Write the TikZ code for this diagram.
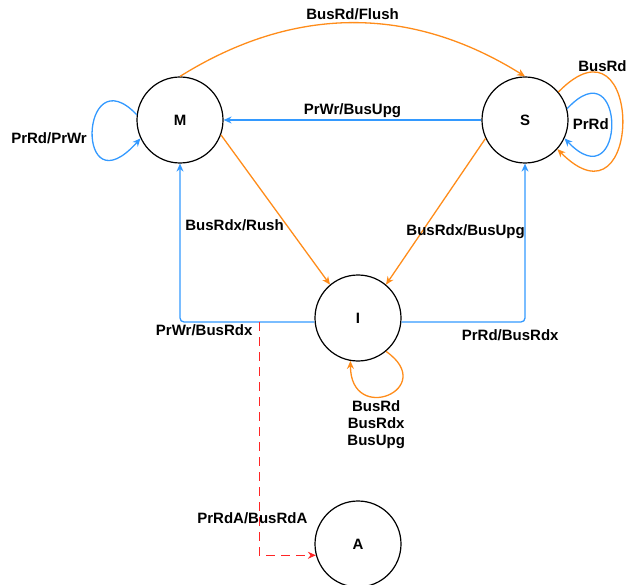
\documentclass[tikz,border=0pt]{standalone}
\usepackage{fontspec}
\setmainfont{Liberation Sans}
\usetikzlibrary{arrows.meta}
\definecolor{busorange}{RGB}{255,140,26}
\definecolor{busblue}{RGB}{51,153,255}
\colorlet{busred}{red!85!white}
\tikzstyle{state} = [circle, draw=black, line width=1.2pt, minimum size=86pt, inner sep=0pt, font=\fontsize{15}{17}\selectfont\bfseries]
\tikzstyle{trans} = [line width=1.3pt, -{Stealth[length=8pt,width=7pt]}]
\tikzstyle{orangeline} = [trans, draw=busorange]
\tikzstyle{blueline} = [trans, draw=busblue, rounded corners=4pt]
\tikzstyle{redline} = [trans, line width=1.5pt, draw=busred, dash pattern=on 9pt off 6pt]
\tikzstyle{lbl} = [font=\fontsize{15}{17}\selectfont\bfseries, text=black, inner sep=2pt, align=center]

\begin{document}
\begin{tikzpicture}[node distance=198pt]
\useasboundingbox (0,0) rectangle (629pt,-585pt);

\node (m) [state] at (180pt,-120pt) {M};
\node (s) [state, right of=m, xshift=147pt] {S};
\node (i) [state, below of=m, xshift=178pt] {I};
\node (a) [state, below of=i, yshift=-28pt] {A};

\coordinate (split) at ([xshift=-55pt, yshift=-4pt]i.west);

% M and S
\draw [orangeline] (m.north) to[bend left=32] node[lbl, above] {BusRd/Flush} (s.north);
\draw [blueline] (s.west) -- node[lbl, above] {PrWr/BusUpg} (m.east);
\draw [blueline] (m.173) .. controls +(-57pt,60pt) and +(-66pt,-74pt) .. node[lbl, left, xshift=-3pt, yshift=-6pt] {PrRd/PrWr} (m.205);
\draw [blueline] (s.15) .. controls +(59.5pt,63.9pt) and +(62pt,-64.8pt) .. node[lbl, left] {PrRd} (s.-25);
\draw [orangeline] (s.40) .. controls +(85.6pt,87.4pt) and +(86.5pt,-87.2pt) .. node[lbl, above, pos=0.22] {BusRd} (s.-42);

% into I
\draw [orangeline] (m.-20) -- node[lbl, left, pos=0.6] {BusRdx/Rush} (i.130);
\draw [orangeline] (s.205) -- node[lbl, anchor=west, pos=0.64, xshift=-18pt] {BusRdx/BusUpg} (i.50);
\draw [orangeline] (i.-50) .. controls +(-35:65pt) and +(-90:65pt) .. node[lbl, below, xshift=-12pt, yshift=-3pt] {BusRd\\BusRdx\\BusUpg} (i.-100);

% out of I
\draw [blueline] ([yshift=-4pt]i.west) -| node[lbl, below, pos=0.41] {PrWr/BusRdx} (m.south);
\draw [blueline] ([yshift=-4pt]i.east) -| node[lbl, below, pos=0.44, yshift=-5pt] {PrRd/BusRdx} (s.south);
\draw [redline] (split) |- node[lbl, pos=0.42, xshift=-7pt] {PrRdA/BusRdA} (a.195);

\end{tikzpicture}
\end{document}
